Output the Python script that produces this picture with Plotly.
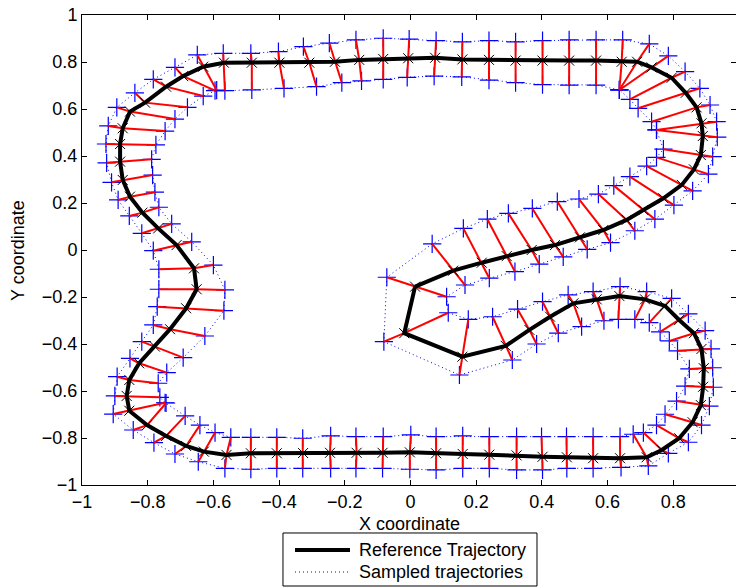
import plotly.graph_objects as go

# Reference trajectory (closed loop), traversed from the inner end
ref_x = [0.014, -0.019, 0.158, 0.290, 0.362, 0.425, 0.496, 0.567, 0.636, 0.714,
         0.775, 0.818, 0.863, 0.886, 0.893, 0.891, 0.884, 0.859, 0.818, 0.765,
         0.719, 0.638, 0.556, 0.476, 0.402, 0.323, 0.240, 0.159, 0.078, -0.002,
         -0.085, -0.164, -0.245, -0.327, -0.407, -0.486, -0.560, -0.629, -0.683, -0.744,
         -0.802, -0.856, -0.864, -0.856, -0.826, -0.778, -0.732, -0.683, -0.651, -0.659,
         -0.712, -0.768, -0.816, -0.854, -0.876, -0.884, -0.884, -0.876, -0.854, -0.808,
         -0.744, -0.692, -0.631, -0.568, -0.483, -0.399, -0.308, -0.230, -0.156, -0.083,
         -0.007, 0.075, 0.158, 0.239, 0.320, 0.402, 0.483, 0.565, 0.643, 0.690,
         0.734, 0.795, 0.838, 0.871, 0.886, 0.890, 0.884, 0.863, 0.826, 0.770,
         0.709, 0.658, 0.587, 0.516, 0.440, 0.369, 0.293, 0.217, 0.130]
ref_y = [-0.156, -0.354, -0.454, -0.408, -0.340, -0.284, -0.227, -0.210, -0.196, -0.210,
         -0.238, -0.298, -0.354, -0.421, -0.503, -0.582, -0.660, -0.733, -0.801, -0.851,
         -0.882, -0.886, -0.886, -0.882, -0.880, -0.874, -0.871, -0.868, -0.865, -0.861,
         -0.863, -0.863, -0.863, -0.864, -0.865, -0.865, -0.872, -0.858, -0.834, -0.791,
         -0.745, -0.684, -0.621, -0.553, -0.482, -0.411, -0.337, -0.248, -0.167, -0.078,
         0.021, 0.092, 0.159, 0.227, 0.298, 0.376, 0.451, 0.518, 0.589, 0.627,
         0.695, 0.740, 0.780, 0.797, 0.797, 0.797, 0.797, 0.801, 0.809, 0.813,
         0.816, 0.818, 0.811, 0.809, 0.806, 0.806, 0.806, 0.806, 0.801, 0.801,
         0.777, 0.733, 0.669, 0.607, 0.539, 0.485, 0.404, 0.343, 0.277, 0.220,
         0.170, 0.128, 0.085, 0.054, 0.021, 0.000, -0.026, -0.054, -0.088]

# Sampled trajectory on the left-hand side of the direction of travel
s1_x = [0.110, 0.115, 0.176, 0.250, 0.326, 0.402, 0.480, 0.556, 0.638, 0.719,
        0.795, 0.846, 0.897, 0.915, 0.920, 0.922, 0.910, 0.886, 0.846, 0.785,
        0.724, 0.641, 0.556, 0.476, 0.402, 0.323, 0.240, 0.159, 0.078, -0.002,
        -0.085, -0.166, -0.243, -0.328, -0.407, -0.486, -0.565, -0.646, -0.717, -0.781,
        -0.844, -0.905, -0.900, -0.893, -0.854, -0.818, -0.783, -0.771, -0.766, -0.766,
        -0.783, -0.818, -0.856, -0.890, -0.910, -0.925, -0.927, -0.920, -0.894, -0.839,
        -0.783, -0.717, -0.649, -0.570, -0.486, -0.402, -0.326, -0.247, -0.166, -0.083,
        -0.004, 0.078, 0.158, 0.239, 0.320, 0.402, 0.483, 0.565, 0.646, 0.727,
        0.785, 0.836, 0.881, 0.912, 0.932, 0.934, 0.920, 0.907, 0.859, 0.802,
        0.744, 0.683, 0.609, 0.538, 0.465, 0.392, 0.318, 0.240, 0.166]
s1_y = [-0.199, -0.267, -0.295, -0.284, -0.252, -0.220, -0.191, -0.177, -0.156, -0.177,
        -0.206, -0.272, -0.343, -0.421, -0.501, -0.584, -0.664, -0.745, -0.818, -0.865,
        -0.919, -0.925, -0.929, -0.929, -0.936, -0.936, -0.929, -0.929, -0.936, -0.933,
        -0.929, -0.929, -0.929, -0.929, -0.929, -0.933, -0.929, -0.901, -0.868, -0.820,
        -0.766, -0.698, -0.621, -0.539, -0.461, -0.390, -0.319, -0.241, -0.167, -0.082,
        -0.003, 0.071, 0.145, 0.213, 0.288, 0.371, 0.451, 0.528, 0.607, 0.669,
        0.726, 0.777, 0.830, 0.837, 0.837, 0.844, 0.865, 0.880, 0.894, 0.901,
        0.897, 0.891, 0.886, 0.891, 0.886, 0.891, 0.894, 0.894, 0.894, 0.877,
        0.826, 0.759, 0.688, 0.617, 0.546, 0.480, 0.397, 0.323, 0.252, 0.191,
        0.131, 0.082, 0.031, 0.003, -0.029, -0.060, -0.092, -0.120, -0.149]

# Sampled trajectory on the right-hand side of the direction of travel
s2_x = [-0.072, -0.081, 0.149, 0.310, 0.384, 0.450, 0.521, 0.589, 0.633, 0.683,
        0.727, 0.760, 0.788, 0.813, 0.849, 0.836, 0.810, 0.775, 0.749, 0.709,
        0.678, 0.638, 0.556, 0.475, 0.399, 0.323, 0.240, 0.159, 0.078, 0.001,
        -0.083, -0.166, -0.243, -0.328, -0.407, -0.486, -0.547, -0.595, -0.641, -0.686,
        -0.744, -0.747, -0.763, -0.768, -0.742, -0.692, -0.626, -0.568, -0.565, -0.600,
        -0.666, -0.727, -0.766, -0.778, -0.785, -0.788, -0.775, -0.747, -0.717, -0.679,
        -0.631, -0.595, -0.590, -0.565, -0.483, -0.385, -0.286, -0.209, -0.149, -0.083,
        -0.010, 0.072, 0.156, 0.239, 0.320, 0.402, 0.483, 0.565, 0.636, 0.636,
        0.636, 0.668, 0.693, 0.734, 0.749, 0.749, 0.770, 0.749, 0.719, 0.668,
        0.619, 0.572, 0.513, 0.447, 0.371, 0.298, 0.234, 0.161, 0.066]
s2_y = [-0.116, -0.390, -0.532, -0.468, -0.400, -0.354, -0.326, -0.301, -0.295, -0.295,
        -0.309, -0.348, -0.387, -0.429, -0.506, -0.579, -0.643, -0.699, -0.745, -0.777,
        -0.784, -0.794, -0.794, -0.794, -0.794, -0.794, -0.794, -0.791, -0.794, -0.787,
        -0.794, -0.794, -0.791, -0.801, -0.797, -0.797, -0.797, -0.777, -0.745, -0.706,
        -0.651, -0.650, -0.627, -0.567, -0.522, -0.458, -0.366, -0.258, -0.170, -0.064,
        0.035, 0.111, 0.182, 0.246, 0.319, 0.386, 0.447, 0.506, 0.557, 0.607,
        0.655, 0.678, 0.680, 0.678, 0.681, 0.688, 0.695, 0.712, 0.720, 0.726,
        0.735, 0.740, 0.737, 0.723, 0.712, 0.704, 0.702, 0.702, 0.681, 0.681,
        0.681, 0.641, 0.603, 0.546, 0.511, 0.511, 0.429, 0.394, 0.357, 0.312,
        0.274, 0.238, 0.217, 0.206, 0.177, 0.156, 0.131, 0.092, 0.026]

x_ticks = [-1, -0.8, -0.6, -0.4, -0.2, 0, 0.2, 0.4, 0.6, 0.8, 1]
y_ticks = [-1, -0.8, -0.6, -0.4, -0.2, 0, 0.2, 0.4, 0.6, 0.8, 1]

legend_labels = ["Reference Trajectory", "Sampled trajectories"]


def closed(values):
    return list(values) + [values[0]]


FONT = "Liberation Sans, Arial, Helvetica, sans-serif"
SAMPLE_DASH = "1px,3px"

fig = go.Figure()

# dotted sampled trajectories
for sx, sy in ((s1_x, s1_y), (s2_x, s2_y)):
    fig.add_trace(go.Scatter(
        x=closed(sx), y=closed(sy), mode="lines",
        line=dict(color="blue", width=1, dash=SAMPLE_DASH),
        name=legend_labels[1], hoverinfo="skip"))

# sample points
fig.add_trace(go.Scatter(
    x=s1_x + s2_x, y=s1_y + s2_y, mode="markers",
    marker=dict(symbol="cross-thin", size=13, line=dict(color="blue", width=1.2)),
    hoverinfo="skip"))

# links between each reference point and its two samples
link_x, link_y = [], []
for i in range(len(ref_x)):
    link_x += [s2_x[i], ref_x[i], s1_x[i], None]
    link_y += [s2_y[i], ref_y[i], s1_y[i], None]
fig.add_trace(go.Scatter(
    x=link_x, y=link_y, mode="lines",
    line=dict(color="red", width=2), hoverinfo="skip"))

# reference trajectory
fig.add_trace(go.Scatter(
    x=closed(ref_x), y=closed(ref_y), mode="lines",
    line=dict(color="black", width=4), name=legend_labels[0]))
fig.add_trace(go.Scatter(
    x=ref_x, y=ref_y, mode="markers",
    marker=dict(symbol="x-thin", size=10, line=dict(color="black", width=1)),
    hoverinfo="skip"))

# right-hand tick marks (no axis line on that side)
fig.add_trace(go.Scatter(x=[0], y=[0], yaxis="y2", mode="markers",
                         marker=dict(opacity=0), hoverinfo="skip"))

axis_common = dict(
    showgrid=False, zeroline=False,
    ticks="inside", ticklen=5, tickcolor="black", tickwidth=1,
    tickfont=dict(family=FONT, size=18, color="black"),
    linecolor="black", linewidth=1,
)

# boxed legend below the axes (paper coordinates of the plot area)
legend_shapes = [
    dict(type="rect", xref="paper", yref="paper",
         x0=0.3073, x1=0.6957, y0=-0.2149, y1=-0.1021,
         line=dict(color="black", width=1), fillcolor="white"),
    dict(type="line", xref="paper", yref="paper",
         x0=0.3257, x1=0.4098, y0=-0.1383, y1=-0.1383,
         line=dict(color="black", width=4)),
    dict(type="line", xref="paper", yref="paper",
         x0=0.3257, x1=0.4098, y0=-0.1851, y1=-0.1851,
         line=dict(color="blue", width=1, dash=SAMPLE_DASH)),
]
legend_text = [
    dict(text=legend_labels[0], xref="paper", yref="paper", x=0.4205, y=-0.1383,
         xanchor="left", yanchor="middle", showarrow=False,
         font=dict(family=FONT, size=18, color="black")),
    dict(text=legend_labels[1], xref="paper", yref="paper", x=0.4205, y=-0.1851,
         xanchor="left", yanchor="middle", showarrow=False,
         font=dict(family=FONT, size=18, color="black")),
]
axis_titles = [
    dict(text="X coordinate", xref="paper", yref="paper", x=0.5015, y=-0.083,
         xanchor="center", yanchor="middle", showarrow=False,
         font=dict(family=FONT, size=18, color="black")),
    dict(text="Y coordinate", xref="paper", yref="paper", x=-0.0979, y=0.5,
         xanchor="center", yanchor="middle", showarrow=False, textangle=-90,
         font=dict(family=FONT, size=18, color="black")),
]

fig.update_layout(
    width=736, height=587,
    margin=dict(l=82, r=0, t=15, b=102, autoexpand=False),
    paper_bgcolor="white", plot_bgcolor="white",
    font=dict(family=FONT, size=18, color="black"),
    showlegend=False,
    xaxis=dict(range=[-1, 0.991], tickvals=x_ticks, showline=True, mirror="ticks",
               **axis_common),
    yaxis=dict(range=[-1, 1], tickvals=y_ticks, showline=True, mirror=False,
               **axis_common),
    yaxis2=dict(range=[-1, 1], tickvals=y_ticks, overlaying="y", side="right",
                showline=False, showticklabels=False, showgrid=False, zeroline=False,
                ticks="inside", ticklen=5, tickcolor="black"),
    shapes=legend_shapes,
    annotations=axis_titles + legend_text,
)

fig.write_html("out.html")
